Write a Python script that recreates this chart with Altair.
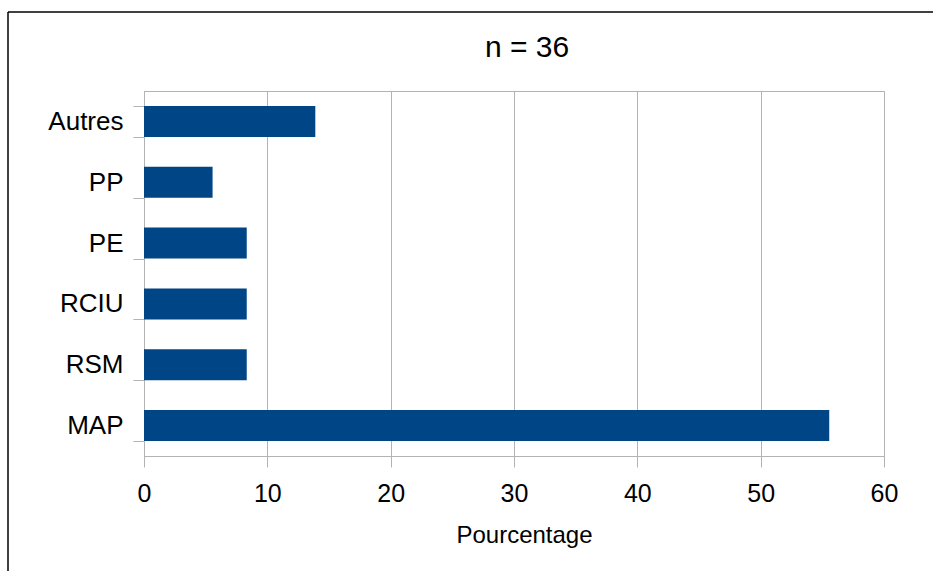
import altair as alt
import pandas as pd

# Share of cases per category (n = 36)
categories = ["Autres", "PP", "PE", "RCIU", "RSM", "MAP"]
percentages = [13.89, 5.56, 8.33, 8.33, 8.33, 55.56]
x_ticks = [0, 10, 20, 30, 40, 50, 60]
chart_title = "n = 36"

df = pd.DataFrame({"categorie": categories, "pourcentage": percentages})

GRID = "#b3b3b3"
BAR = "#004586"
FONT = "Liberation Sans"

bars = alt.Chart(df).mark_bar(color=BAR).encode(
    y=alt.Y(
        "categorie:N",
        sort=categories,
        scale=alt.Scale(paddingInner=0.49, paddingOuter=0.245),
        axis=alt.Axis(
            title=None,
            grid=False,
            domainColor=GRID,
            tickColor=GRID,
            tickSize=11,
            tickBand="extent",
            labelFont=FONT,
            labelFontSize=26,
            labelColor="#000000",
            labelPadding=10,
        ),
    ),
    x=alt.X(
        "pourcentage:Q",
        scale=alt.Scale(domain=[0, 60], nice=False),
        axis=alt.Axis(
            title="Pourcentage",
            values=x_ticks,
            grid=True,
            gridColor=GRID,
            domainColor=GRID,
            tickColor=GRID,
            tickSize=11,
            labelFont=FONT,
            labelFontSize=25,
            labelColor="#000000",
            labelPadding=14,
            labelFlush=False,
            titleFont=FONT,
            titleFontSize=24,
            titleFontWeight="normal",
            titleColor="#000000",
            titleBaseline="alphabetic",
            titleAlign="center",
            titleX=380,
            titleY=86,
        ),
    ),
)

# Chart heading, drawn as a text mark above the plot
heading = alt.Chart(pd.DataFrame({"t": [chart_title]})).mark_text(
    font=FONT, fontSize=30, color="#000000", align="center", baseline="alphabetic"
).encode(text="t:N", x=alt.value(383), y=alt.value(-34))

# Outer frame of the chart (top and left edges)
frame_src = pd.DataFrame({"k": [0]})
frame_top = alt.Chart(frame_src).mark_rule(color="#000000", strokeWidth=1.5).encode(
    x=alt.value(-136), x2=alt.value(800), y=alt.value(-79)
)
frame_left = alt.Chart(frame_src).mark_rule(color="#000000", strokeWidth=1.5).encode(
    x=alt.value(-136), y=alt.value(-79), y2=alt.value(490)
)

chart = (
    alt.layer(bars, heading, frame_top, frame_left)
    .properties(
        width=740,
        height=365,
        autosize=alt.AutoSizeParams(type="none"),
        padding={"left": 144, "top": 91, "right": 49, "bottom": 115},
        background="#ffffff",
    )
    .configure_view(stroke=GRID, strokeWidth=1)
)

chart.save("out.html", embed_options={"renderer": "svg", "actions": False})
